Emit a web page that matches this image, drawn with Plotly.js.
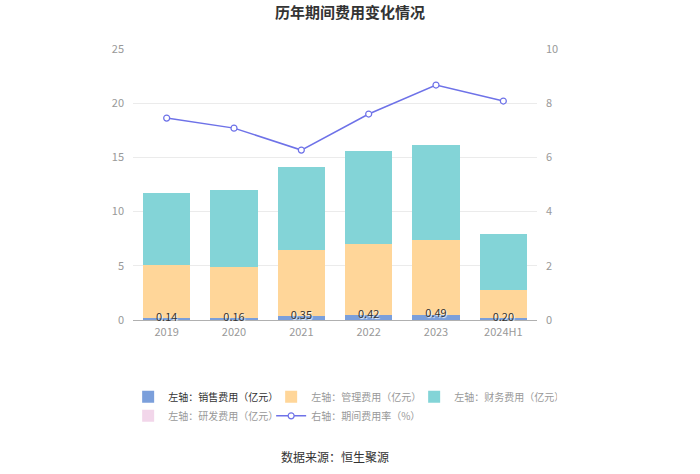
<!DOCTYPE html>
<html>
<head>
<meta charset="utf-8">
<script src="https://cdn.plot.ly/plotly-3.0.1.min.js"></script>
<style>html,body{margin:0;padding:0;background:#fff;}#chart{width:700px;height:474px;}</style>
</head>
<body>
<div id="chart"></div>
<script>
var categories = ['2019', '2020', '2021', '2022', '2023', '2024H1'];
var salesExp = [0.14, 0.16, 0.35, 0.42, 0.49, 0.20];
var adminExp = [4.93, 4.73, 6.11, 6.59, 6.89, 2.57];
var financeExp = [6.65, 7.10, 7.65, 8.58, 8.76, 5.16];
var rdExp = [null, null, null, null, null, null];
var expenseRate = [7.45, 7.08, 6.27, 7.60, 8.67, 8.08];
var salesLabels = ['0.14', '0.16', '0.35', '0.42', '0.49', '0.20'];
var leftTicks = [0, 5, 10, 15, 20, 25];
var rightTicks = [0, 2, 4, 6, 8, 10];

var FONT = '"Noto Sans CJK SC", "Noto Sans", sans-serif';

var traces = [
  {type: 'bar', x: categories, y: salesExp, name: '<span style="color:#333">左轴：销售费用（亿元）</span>',
   marker: {color: '#7B9FDB'}, hoverinfo: 'y'},
  {type: 'bar', x: categories, y: adminExp, name: '左轴：管理费用（亿元）',
   marker: {color: '#FFD699'}, hoverinfo: 'y'},
  {type: 'bar', x: categories, y: financeExp, name: '左轴：财务费用（亿元）',
   marker: {color: '#83D4D7'}, hoverinfo: 'y'},
  {type: 'bar', x: categories, y: rdExp, name: '左轴：研发费用（亿元）',
   marker: {color: '#F2D6EA'}, hoverinfo: 'y'},
  {type: 'scatter', mode: 'lines+markers', x: categories, y: expenseRate, yaxis: 'y2',
   name: '右轴：期间费用率（%）',
   line: {color: '#6E72E8', width: 1.5},
   marker: {symbol: 'circle', size: 6, color: '#ffffff', line: {color: '#6E72E8', width: 1.2}}},
  {type: 'scatter', mode: 'text', x: categories, y: salesExp, text: salesLabels,
   textposition: 'middle center', showlegend: false, hoverinfo: 'skip', cliponaxis: false,
   textfont: {family: FONT, size: 11, color: '#333', shadow: '1px 1px 1px #fff'}}
];

var layout = {
  width: 700, height: 474,
  paper_bgcolor: '#fff', plot_bgcolor: '#fff',
  font: {family: FONT, size: 11, color: '#999'},
  margin: {l: 133, r: 163, t: 49, b: 154},
  barmode: 'stack',
  bargap: 0.3,
  showlegend: true,
  title: {text: '<b>历年期间费用变化情况</b>', x: 0.5, xanchor: 'center', y: 0.985, yanchor: 'top',
          font: {family: FONT, size: 15, color: '#333'}},
  xaxis: {type: 'category', showgrid: false, zeroline: false, showline: false,
          ticks: '', tickfont: {size: 11, color: '#999'}, ticklabelstandoff: 4},
  yaxis: {range: [0, 25], tickvals: leftTicks, showgrid: true, gridcolor: '#ebebeb', gridwidth: 1,
          zeroline: true, zerolinecolor: '#b0b0b0', zerolinewidth: 1, showline: false,
          ticks: '', ticklen: 0, tickfont: {size: 11, color: '#999'}, ticklabelstandoff: 8},
  yaxis2: {range: [0, 10], tickvals: rightTicks, overlaying: 'y', side: 'right', showgrid: false,
           zeroline: false, showline: false, ticks: '', tickfont: {size: 11, color: '#999'},
           ticklabelstandoff: 8},
  legend: {orientation: 'h', x: -0.012, xanchor: 'left', y: -0.23, yanchor: 'top',
           font: {family: FONT, size: 10, color: '#999'}, entrywidth: 98, entrywidthmode: 'pixels',
           traceorder: 'normal', itemclick: false, itemdoubleclick: false},
  annotations: [
    {text: '数据来源：恒生聚源', xref: 'paper', yref: 'paper', x: 0.5, y: -0.505, xanchor: 'center', yanchor: 'middle',
     showarrow: false, font: {family: FONT, size: 12, color: '#333'}}
  ]
};

Plotly.newPlot('chart', traces, layout, {displayModeBar: false, responsive: false});
</script>
</body>
</html>
